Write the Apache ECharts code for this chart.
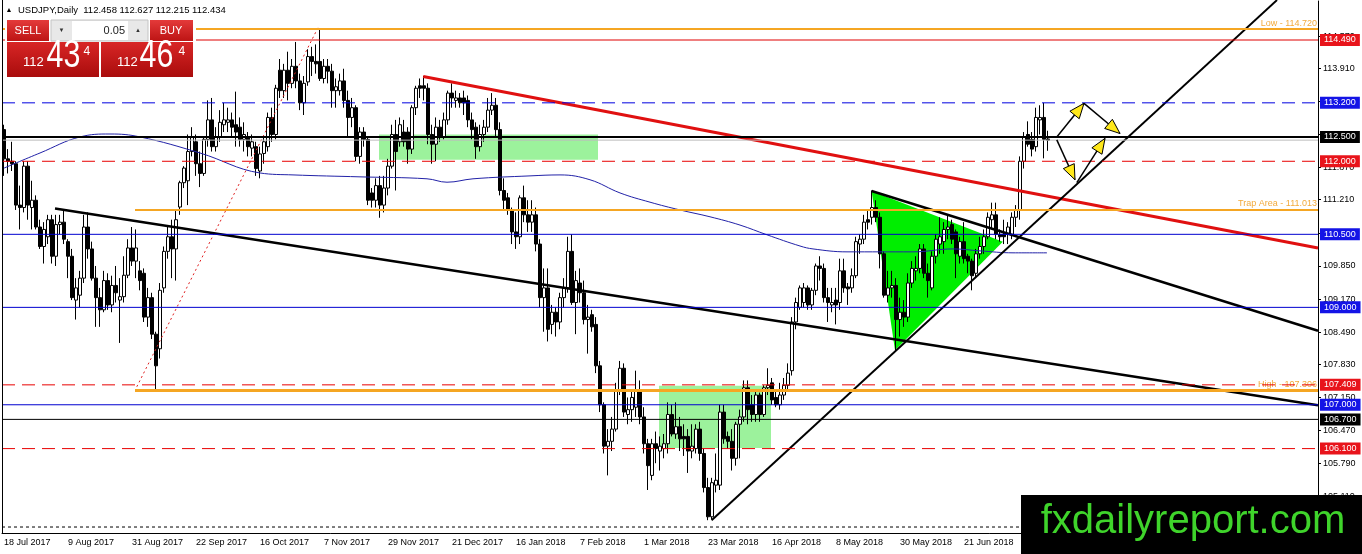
<!DOCTYPE html>
<html>
<head>
<meta charset="utf-8">
<title>USDJPY Daily</title>
<script src="https://cdn.jsdelivr.net/npm/echarts@6/dist/echarts.min.js"></script>
<style>
html, body { margin: 0; padding: 0; background: #fff; }
#chart { width: 1362px; height: 554px; }
</style>
</head>
<body>
<div id="chart"></div>
<script>
// x axis tick labels, one every 16 daily bars
var xTickLabels = ['18 Jul 2017', '9 Aug 2017', '31 Aug 2017', '22 Sep 2017', '16 Oct 2017', '7 Nov 2017',
    '29 Nov 2017', '21 Dec 2017', '16 Jan 2018', '7 Feb 2018', '1 Mar 2018', '23 Mar 2018',
    '16 Apr 2018', '8 May 2018', '30 May 2018', '21 Jun 2018'];
// price scale labels on the right
var yTicks = [114.57, 113.91, 113.23, 112.55, 111.87, 111.21, 110.53, 109.85, 109.17, 108.49,
    107.83, 107.15, 106.47, 105.79, 105.11];

// daily candles, bar 0 = 18 Jul 2017
var openP = [
    112.65, 112.05, 112.00, 111.95, 111.10, 111.05, 111.90, 111.05, 111.20, 110.65,
    110.25, 110.45, 110.80, 110.05, 110.70, 110.75, 110.35, 110.05, 109.15, 109.25,
    109.60, 110.65, 110.20, 109.60, 109.20, 108.95, 109.55, 109.05, 109.45, 109.15,
    109.22, 109.66, 110.22, 109.95, 109.75, 109.70, 108.80, 109.20, 108.45, 108.15,
    109.40, 110.15, 110.45, 110.20, 111.06, 111.56, 111.60, 112.20, 112.40, 111.95,
    111.75, 112.45, 112.85, 112.30, 112.50, 112.75, 112.80, 112.85, 112.75, 112.70,
    112.45, 112.50, 112.27, 112.30, 111.80, 112.16, 112.30, 112.90, 112.55, 113.87,
    113.45, 113.87, 113.60, 113.95, 113.65, 113.20, 113.63, 114.15, 114.05, 114.05,
    113.70, 113.95, 113.85, 113.45, 113.45, 113.65, 113.25, 112.90, 113.10, 112.10,
    112.60, 112.45, 111.35, 111.20, 111.50, 111.10, 111.45, 111.90, 112.55, 112.40,
    112.60, 112.60, 112.25, 113.10, 113.55, 113.55, 113.50, 112.55, 112.35, 112.70,
    112.50, 112.85, 113.40, 113.25, 113.30, 113.30, 113.25, 112.85, 112.70, 112.30,
    112.55, 112.70, 113.05, 113.15, 112.65, 111.40, 111.25, 111.00, 110.55, 110.45,
    111.25, 110.90, 110.75, 110.90, 110.30, 109.20, 109.40, 108.65, 108.90, 108.70,
    109.20, 109.40, 110.15, 109.10, 109.50, 109.30, 108.75, 108.85, 108.65, 107.80,
    107.00, 106.15, 106.25, 106.50, 107.30, 107.75, 106.80, 106.90, 106.95, 107.30,
    106.75, 106.20, 105.55, 106.20, 106.05, 106.10, 106.20, 106.80, 106.40, 106.55,
    106.35, 106.35, 106.05, 106.10, 106.50, 106.00, 105.30, 104.70, 105.35, 105.35,
    106.85, 106.35, 106.25, 105.90, 106.60, 106.75, 107.35, 107.00, 106.80, 107.20,
    106.80, 107.35, 107.45, 107.15, 107.00, 107.20, 107.40, 107.70, 108.70, 109.00,
    109.10, 109.40, 109.05, 109.35, 109.85, 109.80, 109.20, 109.05, 109.15, 109.10,
    109.75, 109.42, 109.40, 109.65, 110.30, 110.40, 110.80, 110.85, 111.05, 110.85,
    110.10, 109.25, 109.40, 109.45, 108.75, 108.90, 108.80, 109.50, 109.75, 109.80,
    110.20, 109.70, 109.40, 110.05, 110.30, 110.35, 110.60, 110.70, 110.55, 110.05,
    110.35, 110.05, 109.95, 109.70, 110.10, 110.25, 110.45, 110.80, 110.90, 110.50,
    110.50, 110.50, 110.50, 110.85, 111.00, 112.00, 112.55, 112.45, 112.30, 112.85,
    112.90, 112.458
];
var highP = [
    112.75, 112.25, 112.40, 112.00, 111.50, 112.00, 112.00, 111.60, 111.30, 110.80,
    110.75, 110.90, 110.90, 110.90, 110.90, 111.00, 110.40, 110.20, 109.60, 109.75,
    110.90, 110.95, 110.35, 109.85, 109.40, 109.75, 109.70, 109.65, 109.85, 109.60,
    110.05, 110.40, 110.65, 110.60, 109.95, 109.80, 109.40, 109.30, 108.50, 109.50,
    110.25, 110.65, 110.80, 111.00, 111.60, 111.90, 112.55, 112.70, 112.55, 112.20,
    112.50, 113.25, 113.30, 112.70, 113.05, 113.20, 113.10, 113.00, 113.43, 112.90,
    112.80, 112.60, 112.55, 112.40, 112.30, 112.50, 113.00, 113.10, 113.57, 114.10,
    114.00, 114.25, 114.10, 114.45, 113.80, 113.75, 114.30, 114.35, 114.40, 114.73,
    114.10, 114.10, 114.00, 113.70, 113.80, 113.90, 113.45, 113.30, 113.15, 112.70,
    112.70, 112.50, 111.45, 111.65, 111.70, 111.70, 112.05, 112.75, 112.85, 112.90,
    112.85, 112.70, 113.15, 113.55, 113.70, 113.75, 113.60, 112.75, 112.90, 112.85,
    113.00, 113.45, 113.60, 113.45, 113.40, 113.45, 113.35, 113.00, 112.80, 112.75,
    112.85, 113.30, 113.40, 113.30, 112.80, 111.65, 111.35, 111.05, 110.95, 111.30,
    111.50, 111.20, 111.20, 111.05, 110.40, 109.80, 109.80, 109.05, 109.00, 109.30,
    109.60, 110.45, 110.50, 109.75, 109.80, 109.55, 109.05, 108.95, 108.80, 107.90,
    107.05, 106.50, 106.75, 107.45, 107.90, 107.85, 107.15, 107.30, 107.70, 107.50,
    106.95, 106.30, 106.30, 106.45, 106.35, 106.40, 107.05, 107.00, 107.05, 106.75,
    106.60, 106.50, 106.60, 106.60, 106.65, 106.10, 105.50, 105.50, 106.00, 107.00,
    107.00, 106.45, 106.50, 106.65, 106.90, 107.50, 107.50, 107.20, 107.30, 107.25,
    107.40, 107.75, 107.55, 107.30, 107.45, 107.55, 107.85, 108.80, 109.20, 109.45,
    109.50, 109.45, 109.40, 109.90, 110.05, 109.90, 109.40, 109.40, 109.40, 110.00,
    110.00, 109.50, 109.80, 110.45, 110.50, 110.90, 111.00, 111.40, 111.20, 110.95,
    110.15, 109.75, 109.75, 109.60, 109.20, 109.15, 109.70, 109.95, 110.05, 110.30,
    110.30, 109.90, 110.15, 110.50, 110.85, 110.75, 110.90, 110.80, 110.60, 110.45,
    110.75, 110.10, 110.00, 110.20, 110.45, 110.60, 110.95, 111.15, 111.15, 110.60,
    110.80, 110.75, 110.95, 111.10, 112.10, 112.60, 112.82, 112.60, 113.10, 113.15,
    113.20, 112.627
];
var lowP = [
    111.70, 111.75, 111.80, 111.00, 110.60, 110.95, 110.80, 110.60, 110.60, 110.20,
    109.90, 110.30, 109.90, 109.85, 110.50, 110.30, 109.60, 109.15, 108.75, 109.00,
    109.50, 110.00, 109.55, 108.60, 108.60, 108.90, 108.95, 108.90, 109.10, 108.27,
    109.10, 109.60, 109.85, 109.60, 109.35, 108.70, 108.60, 108.35, 107.32, 107.95,
    109.30, 110.00, 109.60, 109.55, 110.90, 111.45, 111.10, 112.10, 111.70, 111.47,
    111.70, 112.30, 112.20, 112.20, 112.40, 112.60, 112.60, 112.50, 112.30, 112.30,
    112.20, 112.10, 112.10, 111.70, 111.65, 111.95, 112.20, 112.40, 112.45, 113.30,
    113.30, 113.25, 113.50, 113.50, 113.05, 112.95, 113.55, 113.75, 113.80, 113.65,
    113.60, 113.60, 113.10, 113.10, 113.35, 113.10, 112.50, 112.70, 112.00, 111.95,
    112.30, 111.10, 111.05, 111.05, 110.84, 110.95, 111.30, 111.85, 111.40, 112.30,
    112.30, 111.95, 112.15, 112.95, 113.30, 113.25, 112.35, 111.95, 112.00, 112.40,
    112.45, 112.75, 113.10, 113.10, 113.10, 112.95, 112.70, 112.45, 112.05, 112.20,
    112.40, 112.60, 112.95, 112.50, 111.30, 111.00, 110.90, 110.30, 110.20, 110.30,
    110.75, 110.55, 110.55, 110.15, 109.00, 108.50, 108.30, 108.45, 108.40, 108.55,
    109.00, 109.30, 109.05, 108.45, 109.10, 108.65, 108.05, 108.50, 107.65, 106.85,
    106.00, 105.55, 106.05, 106.45, 107.20, 106.75, 106.60, 106.65, 106.75, 106.60,
    106.00, 105.25, 105.45, 105.80, 105.65, 105.90, 106.00, 106.35, 106.30, 106.05,
    105.95, 105.60, 105.90, 106.00, 105.85, 105.20, 104.63, 104.65, 105.20, 105.25,
    106.20, 106.10, 105.65, 105.75, 105.90, 106.65, 106.60, 106.65, 106.65, 106.65,
    106.75, 107.20, 107.00, 106.95, 106.90, 107.10, 107.30, 107.60, 108.55, 108.95,
    109.00, 108.95, 108.95, 109.25, 109.55, 109.10, 108.70, 108.90, 108.65, 108.95,
    109.30, 109.05, 109.30, 109.60, 110.10, 110.30, 110.60, 110.70, 110.75, 109.80,
    109.20, 109.10, 109.20, 108.10, 108.40, 108.60, 108.70, 109.40, 109.55, 109.70,
    109.60, 109.20, 109.35, 109.90, 110.10, 110.10, 110.40, 110.30, 109.60, 109.90,
    109.90, 109.70, 109.35, 109.60, 110.00, 110.10, 110.40, 110.60, 110.40, 110.35,
    110.30, 110.30, 110.40, 110.65, 110.80, 111.85, 112.30, 112.10, 112.20, 112.55,
    112.06, 112.215
];
var closeP = [
    112.05, 112.00, 111.95, 111.10, 111.05, 111.90, 111.10, 111.20, 110.65, 110.25,
    110.60, 110.80, 110.05, 110.70, 110.75, 110.40, 110.05, 109.20, 109.40, 109.60,
    110.65, 110.20, 109.60, 109.20, 108.95, 109.55, 109.05, 109.45, 109.30, 109.22,
    109.66, 110.22, 109.95, 110.22, 109.55, 108.80, 109.20, 108.45, 107.80, 109.35,
    110.15, 110.45, 110.20, 110.80, 111.56, 111.86, 112.20, 112.50, 111.95, 111.75,
    112.45, 112.85, 112.30, 112.50, 112.80, 112.85, 112.85, 112.70, 112.60, 112.45,
    112.55, 112.30, 112.40, 111.85, 112.15, 112.40, 112.90, 112.55, 113.50, 113.45,
    113.87, 113.60, 113.95, 113.65, 113.20, 113.60, 114.15, 114.05, 114.00, 113.70,
    113.95, 113.85, 113.45, 113.53, 113.65, 113.25, 112.90, 113.10, 112.10, 112.60,
    112.45, 111.20, 111.20, 111.50, 111.10, 111.45, 111.90, 112.55, 112.20, 112.75,
    112.40, 112.25, 113.10, 113.50, 113.50, 113.50, 112.55, 112.35, 112.70, 112.50,
    112.85, 113.40, 113.30, 113.30, 113.20, 113.20, 112.85, 112.65, 112.30, 112.55,
    112.70, 113.05, 113.15, 112.65, 111.40, 111.20, 111.00, 110.55, 110.45, 111.25,
    110.90, 110.75, 110.90, 110.30, 109.20, 109.40, 108.55, 108.90, 108.70, 109.20,
    109.40, 110.15, 109.10, 109.55, 109.30, 108.75, 108.80, 108.60, 107.80, 107.00,
    106.15, 106.25, 106.50, 107.30, 107.75, 106.85, 106.90, 107.15, 107.30, 106.75,
    106.20, 105.75, 106.20, 106.10, 106.15, 106.20, 106.80, 106.40, 106.55, 106.30,
    106.30, 106.05, 106.15, 106.50, 106.00, 105.30, 104.70, 105.40, 105.45, 106.85,
    106.30, 106.25, 105.90, 106.60, 106.75, 107.35, 106.90, 106.80, 107.20, 106.80,
    107.35, 107.40, 107.10, 107.00, 107.20, 107.40, 107.65, 108.70, 109.10, 109.40,
    109.40, 109.05, 109.35, 109.85, 109.80, 109.20, 109.10, 109.10, 109.05, 109.75,
    109.40, 109.38, 109.65, 110.35, 110.40, 110.75, 110.75, 111.05, 110.85, 110.10,
    109.25, 109.40, 109.45, 108.75, 108.90, 108.80, 109.50, 109.80, 109.80, 110.20,
    109.70, 109.55, 110.05, 110.40, 110.45, 110.60, 110.65, 110.40, 110.10, 110.35,
    110.00, 109.95, 109.65, 110.10, 110.25, 110.45, 110.85, 110.90, 110.50, 110.45,
    110.45, 110.65, 110.85, 111.00, 112.00, 112.50, 112.35, 112.25, 112.90, 112.90,
    112.45, 112.434
];

// moving average: [bar, price]
var maPoints = [
    [0, 111.86], [9, 112.17], [19, 112.50], [26.5, 112.56], [34, 112.50], [49, 112.17],
    [64, 111.76], [72.25, 111.72], [89, 111.68], [105.75, 111.64], [110.75, 111.57],
    [117.25, 111.64], [131.5, 111.70], [139, 111.72], [146.5, 111.62], [154, 111.35],
    [161.5, 111.16], [169, 111.00], [176.5, 110.86], [184, 110.69], [190.75, 110.49],
    [199, 110.26], [202.25, 110.20], [210.75, 110.14], [227.25, 110.14], [237.25, 110.20],
    [244, 110.16], [252.25, 110.12], [260.75, 110.12]
];

// drawn objects: [bar, price]
var redTrend = [[104.8, 113.74], [328.5, 110.22]];
var longTrend = [[12.75, 111.03], [328.5, 106.99]];
var wedgeTrend = [[216.9, 111.39], [328.5, 108.52]];
var upTrend = [[176.9, 104.63], [318.25, 115.31]];
var dottedTrend = [[33.2, 107.37], [78.6, 114.76]];
var zoneHigh = [[93.75, 112.55], [148.5, 112.03]];
var zoneLow = [[163.75, 107.39], [191.75, 106.11]];
var wedge = [[216.9, 111.39], [222.75, 108.12], [249.7, 110.35]];
var arrowSegs = [
    [[263.2, 112.50], [270.0, 113.19]],
    [[270.0, 113.19], [279.0, 112.57]],
    [[263.2, 112.44], [267.75, 111.62]],
    [[268.2, 111.56], [275.25, 112.47]]
];

// horizontal levels
var redSolid = [114.49];
var blueDashed = [113.2];
var blackLevels = [112.5, 106.7];
var redDashed = [112.0, 107.409, 106.1];
var blueSolid = [110.5, 109.0, 107.0];
var bidPrice = 112.434;
var bottomDotted = 104.49;
var orangePrice = [114.72, 111.013, 107.306];
var orangeText = ['Low - 114.720', 'Trap Area - 111.013', 'High - 107.306'];
var orangeFrom = [-0.5, 32.75, 32.75];

var NBARS = 329;
var X_END = NBARS - 0.5;
var FONT = 'Liberation Sans, Arial, sans-serif';

var cats = [];
for (var i = 0; i < NBARS; i++) cats.push(String(i));
var candles = openP.map(function (o, k) { return [o, closeP[k], lowP[k], highP[k]]; });

function rectPoly(c) {
    return [[c[0][0], c[0][1]], [c[1][0], c[0][1]], [c[1][0], c[1][1]], [c[0][0], c[1][1]]];
}
var zoneShapes = [rectPoly(zoneHigh), rectPoly(zoneLow), wedge];
var zoneFills = ['#9cf29c', '#9cf29c', '#00ee00'];

// one horizontal level as a two point line, with its price box at the right end
function level(p, color, width, type, box) {
    var s = {
        type: 'line', xAxisIndex: 1, yAxisIndex: 0, z: 5, silent: true, symbol: 'none',
        data: [[-0.5, p], [X_END, p]],
        lineStyle: { color: color, width: width, type: type }
    };
    if (box) {
        s.endLabel = {
            show: true, distance: 2, formatter: p.toFixed(3), color: '#fff',
            backgroundColor: box, padding: [2, 4, 1, 4], fontSize: 9, fontFamily: FONT
        };
    }
    return s;
}

var DASH = [13, 7];
var levelSeries = [];
levelSeries.push(level(bottomDotted, '#000', 1, [3, 3]));
levelSeries.push(level(bidPrice, '#bdbdbd', 1, 'solid'));
redSolid.forEach(function (p) { levelSeries.push(level(p, '#e00000', 1, 'solid', '#e8141b')); });
blueDashed.forEach(function (p) { levelSeries.push(level(p, '#0000e0', 1, DASH, '#1414e6')); });
redDashed.forEach(function (p) { levelSeries.push(level(p, '#e80000', 1, DASH, '#e8141b')); });
blueSolid.forEach(function (p) { levelSeries.push(level(p, '#0000d0', 1, 'solid', '#1414e6')); });
blackLevels.forEach(function (p, k) { levelSeries.push(level(p, '#000', k === 0 ? 2 : 1, 'solid', '#000')); });

var orangeData = orangePrice.map(function (p, k) {
    return [
        {
            coord: [orangeFrom[k], p],
            lineStyle: { color: '#f5a623', width: k === 2 ? 3 : 2, type: 'solid' },
            label: {
                show: true, position: 'insideEndTop', distance: 1, formatter: orangeText[k],
                color: '#f2aa3c', fontSize: 9, fontFamily: FONT
            }
        },
        { coord: [X_END, p] }
    ];
});

function trend(data, color, width, type) {
    return {
        type: 'line', xAxisIndex: 1, yAxisIndex: 0, data: data, symbol: 'none', silent: true, z: 4,
        lineStyle: { color: color, width: width, type: type || 'solid' }
    };
}

var redGrad = new echarts.graphic.LinearGradient(0, 0, 0, 1, [
    { offset: 0, color: '#e43a3a' }, { offset: 1, color: '#bd1414' }]);
var bigGrad = new echarts.graphic.LinearGradient(0, 0, 0, 1, [
    { offset: 0, color: '#d82626' }, { offset: 1, color: '#a90c0c' }]);

function txt(x, y, s, size, fill, align, sx) {
    return {
        type: 'text', x: x, y: y, scaleX: sx || 1, z: 102,
        style: {
            x: 0, y: 0, text: s, fill: fill, font: size + 'px ' + FONT,
            align: align, verticalAlign: 'middle', textAlign: align, textVerticalAlign: 'middle'
        }
    };
}

var chart = echarts.init(document.getElementById('chart'));

var series = [
    {
        type: 'custom', xAxisIndex: 1, yAxisIndex: 0, z: 1, silent: true, clip: true,
        data: zoneShapes.map(function (s) { return s[0]; }),
        renderItem: function (params, api) {
            var pts = zoneShapes[params.dataIndex].map(function (p) { return api.coord(p); });
            return { type: 'polygon', shape: { points: pts }, style: { fill: zoneFills[params.dataIndex] } };
        }
    },
    {
        type: 'candlestick', xAxisIndex: 0, yAxisIndex: 0, z: 2, silent: true,
        data: candles,
        barWidth: 3,
        itemStyle: { color: '#fff', color0: '#000', borderColor: '#000', borderColor0: '#000', borderWidth: 1 }
    },
    {
        type: 'line', xAxisIndex: 1, yAxisIndex: 0, z: 3, silent: true, data: maPoints,
        symbol: 'none', smooth: 0.4, lineStyle: { color: '#2222a8', width: 1 }
    },
    trend(dottedTrend, '#e02020', 1, [2, 3]),
    trend(redTrend, '#e01010', 3),
    trend(longTrend, '#000', 2.5),
    trend(wedgeTrend, '#000', 2.5),
    trend(upTrend, '#000', 2),
    {
        type: 'line', xAxisIndex: 1, yAxisIndex: 0, z: 5, data: [], silent: true,
        markLine: { symbol: ['none', 'none'], silent: true, animation: false, data: orangeData }
    }
].concat(levelSeries).concat([
    {
        type: 'custom', xAxisIndex: 1, yAxisIndex: 0, z: 6, silent: true, clip: true,
        data: arrowSegs.map(function (s) { return s[1]; }),
        renderItem: function (params, api) {
            var seg = arrowSegs[params.dataIndex];
            var a = api.coord(seg[0]), b = api.coord(seg[1]);
            var ang = Math.atan2(b[1] - a[1], b[0] - a[0]);
            var L = 15, W = 6;
            var bx = b[0] - L * Math.cos(ang), by = b[1] - L * Math.sin(ang);
            var nx = -Math.sin(ang) * W, ny = Math.cos(ang) * W;
            return {
                type: 'group', children: [
                    { type: 'line', shape: { x1: a[0], y1: a[1], x2: b[0], y2: b[1] }, style: { stroke: '#000', lineWidth: 1.5 } },
                    {
                        type: 'polygon', shape: { points: [[b[0], b[1]], [bx + nx, by + ny], [bx - nx, by - ny]] },
                        style: { fill: '#ffe81a', stroke: '#000', lineWidth: 1 }
                    }
                ]
            };
        }
    }
]);

chart.setOption({
    animation: false,
    backgroundColor: '#fff',
    textStyle: { fontFamily: FONT },
    grid: { left: 2, right: 44, top: 1, bottom: 21 },
    xAxis: [{
        type: 'category',
        data: cats,
        boundaryGap: true,
        axisLine: { lineStyle: { color: '#000', width: 1 } },
        axisTick: { interval: 15, alignWithLabel: true, length: 4, lineStyle: { color: '#000' } },
        axisLabel: {
            interval: 15, align: 'left', color: '#000', fontSize: 9, margin: 5,
            formatter: function (v, idx) { return xTickLabels[idx / 16] || ''; }
        },
        minorTick: { show: false },
        splitLine: { show: false }
    }, {
        type: 'value', min: -0.5, max: X_END, show: false,
        axisLine: { show: false }, axisTick: { show: false }, axisLabel: { show: false },
        splitLine: { show: false }, minorTick: { show: false }
    }],
    yAxis: {
        type: 'value',
        position: 'right',
        min: 104.367,
        max: 115.291,
        axisLine: { show: true, onZero: false, lineStyle: { color: '#000' } },
        axisTick: { show: true, length: 3, customValues: yTicks, lineStyle: { color: '#000' } },
        axisLabel: {
            customValues: yTicks, color: '#000', fontSize: 9, margin: 5,
            formatter: function (v) { return v.toFixed(3); }
        },
        minorTick: { show: false },
        splitLine: { show: false }
    },
    series: series,
    graphic: [
        { type: 'rect', z: 50, shape: { x: 2, y: 0, width: 1, height: 533 }, style: { fill: '#000' } },
        // header
        txt(9, 10, '\u25B2', 7, '#000', 'center'),
        txt(18, 10, 'USDJPY,Daily  112.458 112.627 112.215 112.434', 9.5, '#000', 'left'),
        // one-click trading panel
        { type: 'rect', z: 100, shape: { x: 5, y: 18, width: 191, height: 61 }, style: { fill: '#fff' } },
        { type: 'rect', z: 101, shape: { x: 7, y: 20, width: 42, height: 21 }, style: { fill: redGrad } },
        txt(28, 31, 'SELL', 11, '#fff', 'center'),
        { type: 'rect', z: 101, shape: { x: 51, y: 20, width: 97, height: 21 }, style: { fill: '#e8e8e8', stroke: '#c4c4c4' } },
        { type: 'rect', z: 101, shape: { x: 72, y: 21, width: 56, height: 19 }, style: { fill: '#fff' } },
        txt(61.5, 30.5, '\u25BC', 6, '#333', 'center'),
        txt(138, 30.5, '\u25B2', 6, '#333', 'center'),
        txt(125, 31, '0.05', 11, '#222', 'right'),
        { type: 'rect', z: 101, shape: { x: 150, y: 20, width: 43, height: 21 }, style: { fill: redGrad } },
        txt(171, 31, 'BUY', 11, '#fff', 'center'),
        { type: 'rect', z: 101, shape: { x: 7, y: 42, width: 92, height: 35 }, style: { fill: bigGrad } },
        { type: 'rect', z: 101, shape: { x: 101, y: 42, width: 92, height: 35 }, style: { fill: bigGrad } },
        txt(23, 62, '112', 13, '#fff', 'left'),
        txt(46.5, 57, '43', 38, '#fff', 'left', 0.8),
        txt(83.5, 51.5, '4', 12, '#fff', 'left'),
        txt(117, 62, '112', 13, '#fff', 'left'),
        txt(139.5, 57, '46', 38, '#fff', 'left', 0.8),
        txt(178.5, 51.5, '4', 12, '#fff', 'left'),
        // watermark
        { type: 'rect', z: 110, shape: { x: 1021, y: 495, width: 341, height: 59 }, style: { fill: '#000' } },
        {
            type: 'text', z: 111, x: 1193, y: 522,
            style: {
                x: 0, y: 0, text: 'fxdailyreport.com', fill: '#3fd42b', font: '40px ' + FONT,
                align: 'center', verticalAlign: 'middle', textAlign: 'center', textVerticalAlign: 'middle'
            }
        }
    ]
});
</script>
</body>
</html>
